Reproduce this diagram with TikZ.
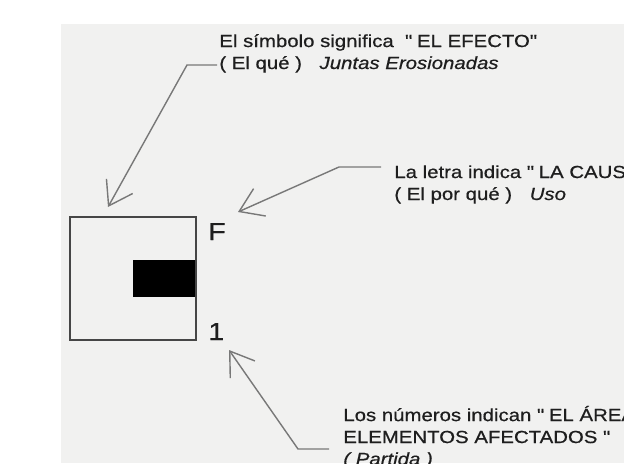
\documentclass[tikz,border=0pt]{standalone}
\usepackage{fontspec}
\setmainfont{Liberation Sans}[FakeStretch=1.16,FakeBold=0.6]
\usetikzlibrary{arrows.meta}
\definecolor{paper}{RGB}{241,241,240}
\definecolor{ink}{RGB}{30,30,30}
\definecolor{lead}{RGB}{120,120,120}

\begin{document}
\begin{tikzpicture}[x=0.02cm, y=-0.02cm,
  note/.style={anchor=base west, inner sep=0pt, align=left, font=\fontsize{10}{12.5}\selectfont, text=ink},
  leader/.style={draw=lead, line width=0.8pt, -{Straight Barb[length=0.45cm,width=0.6cm]}},
  tag/.style={anchor=base west, inner sep=0pt, font=\fontsize{14}{14}\selectfont, text=ink}]
\useasboundingbox (0,0) rectangle (624,463);
\clip (0,0) rectangle (624,463);
\fill[paper] (61,24) rectangle (624,463);
% symbol box
\node[draw=gray!55!black, line width=1.1pt, minimum width=2.52cm, minimum height=2.46cm] (sym) at (133,278.5) {};
\node[fill=black, minimum width=1.24cm, minimum height=0.74cm, inner sep=0pt] (mark) at (164,278.5) {};
\node[tag] (cause) at (208,240) {F};
\node[tag] (area) at (208,340) {1};
% notes (anchored at the last line)
\node[note] (efecto) at (219,69) {El símbolo significa \ \textquotedbl\ EL EFECTO\textquotedbl\\
  ( El qué )\quad \textit{Juntas Erosionadas}};
\node[note] (causa) at (394,200) {La letra indica \textquotedbl\ LA CAUSA\textquotedbl\\
  ( El por qué )\quad \textit{Uso}};
\node[note] (zona) at (343,465) {Los números indican \textquotedbl\ EL ÁREA\\
  ELEMENTOS AFECTADOS \textquotedbl\\ \textit{( Partida )}};
% leaders
\coordinate (e1) at (217,65);
\coordinate (k1) at (187,65);
\coordinate (t1) at (108,207);
\coordinate (e2) at (381,167);
\coordinate (k2) at (339,167);
\coordinate (t2) at (238,212);
\coordinate (e3) at (329,449);
\coordinate (k3) at (298,449);
\coordinate (t3) at (229,350);
\draw[leader] (e1) -- (k1) -- (t1);
\draw[leader] (e2) -- (k2) -- (t2);
\draw[leader] (e3) -- (k3) -- (t3);
\end{tikzpicture}
\end{document}
